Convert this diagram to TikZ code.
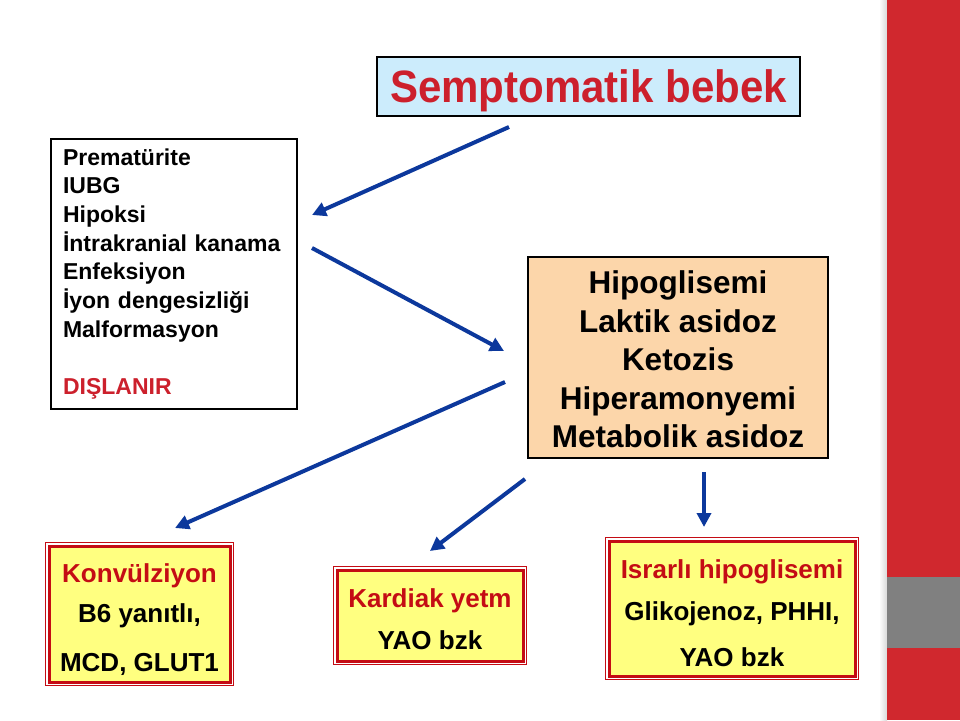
\documentclass[tikz,border=0pt]{standalone}
\usepackage{fontspec}
\setmainfont{Liberation Sans}
\usetikzlibrary{arrows.meta}
\definecolor{titlered}{RGB}{204,32,44}
\definecolor{skyfill}{RGB}{204,236,252}
\definecolor{peach}{RGB}{252,214,170}
\definecolor{lemon}{RGB}{255,255,128}
\definecolor{boxred}{RGB}{196,12,20}
\definecolor{arrowblue}{RGB}{12,56,156}
\definecolor{barred}{RGB}{208,40,46}
\definecolor{bargray}{RGB}{128,128,128}

\begin{document}
\begin{tikzpicture}[
    x=1pt, y=-1pt,
    box/.style={draw=black, line width=2pt, align=center, text=black, inner sep=0pt},
    sumbox/.style={draw=boxred, fill=lemon, line width=3pt, align=center, inner sep=0pt, font=\bfseries\fontsize{26}{43}\selectfont},
    arr/.style={-{Triangle[length=14pt, width=14pt]}, draw=arrowblue, line width=4pt}
  ]
    \fill[white] (0,0) rectangle (960,720);
    \shade[left color=white, right color=black!15] (879,0) rectangle (887,720);
    \fill[barred] (887,0) rectangle (960,720);
    \fill[bargray] (887,577) rectangle (960,648);

    \node[box, fill=skyfill, minimum width=423pt, minimum height=59pt, text=titlered, font=\bfseries\fontsize{42}{48}\selectfont] (head) at (588.5,86.5) {\rule{0pt}{41pt}\scalebox{1}[1.08]{Semptomatik bebek}};
    \node[box, fill=white, minimum width=246pt, minimum height=270pt, text width=222pt, align=left, font=\bfseries\fontsize{23}{28.7}\selectfont] (risk) at (174,274) {Prematürite\\IUBG\\Hipoksi\\İntrakranial kanama\\Enfeksiyon\\İyon dengesizliği\\Malformasyon\\[28.7pt]\textcolor{titlered}{DIŞLANIR}};
    \node[box, fill=peach, minimum width=300pt, minimum height=201pt, font=\bfseries\fontsize{31.5}{38.5}\selectfont] (lab) at (678,357.5) {\rule{0pt}{27pt}Hipoglisemi\\Laktik asidoz\\Ketozis\\Hiperamonyemi\\Metabolik asidoz};

    \node[sumbox, minimum width=181pt, minimum height=136pt] (seiz) at (139.5,614) {\rule{0pt}{30pt}\textcolor{boxred}{Konvülziyon}\\[-3pt]B6 yanıtlı,\\[6pt]MCD, GLUT1};
    \node[sumbox, minimum width=186pt, minimum height=91pt] (card) at (430,615.5) {\rule{0pt}{27pt}\textcolor{boxred}{Kardiak yetm}\\[-1pt]YAO bzk};
    \node[sumbox, minimum width=246pt, minimum height=135pt] (pers) at (732,608.5) {\rule{0pt}{29pt}\textcolor{boxred}{Israrlı hipoglisemi}\\[-1pt]Glikojenoz, PHHI,\\[3pt]YAO bzk};
    \foreach \n in {seiz,card,pers}
        \draw[boxred, line width=1.2pt] ([shift={(-2,-2)}]\n.north west) rectangle ([shift={(2,2)}]\n.south east);

    \coordinate (s1) at (509,127);
    \coordinate (e1) at (312,215);
    \coordinate (s2) at (312,248);
    \coordinate (e2) at (504,351);
    \coordinate (s3) at (505,382);
    \coordinate (e3) at (175,528);
    \coordinate (s4) at (525,479);
    \coordinate (e4) at (430,551);
    \coordinate (s5) at (704,472);
    \coordinate (e5) at (704,527);
    \draw[arr] (s1) -- (e1);
    \draw[arr] (s2) -- (e2);
    \draw[arr] (s3) -- (e3);
    \draw[arr] (s4) -- (e4);
    \draw[arr] (s5) -- (e5);
  \end{tikzpicture}
\end{document}
